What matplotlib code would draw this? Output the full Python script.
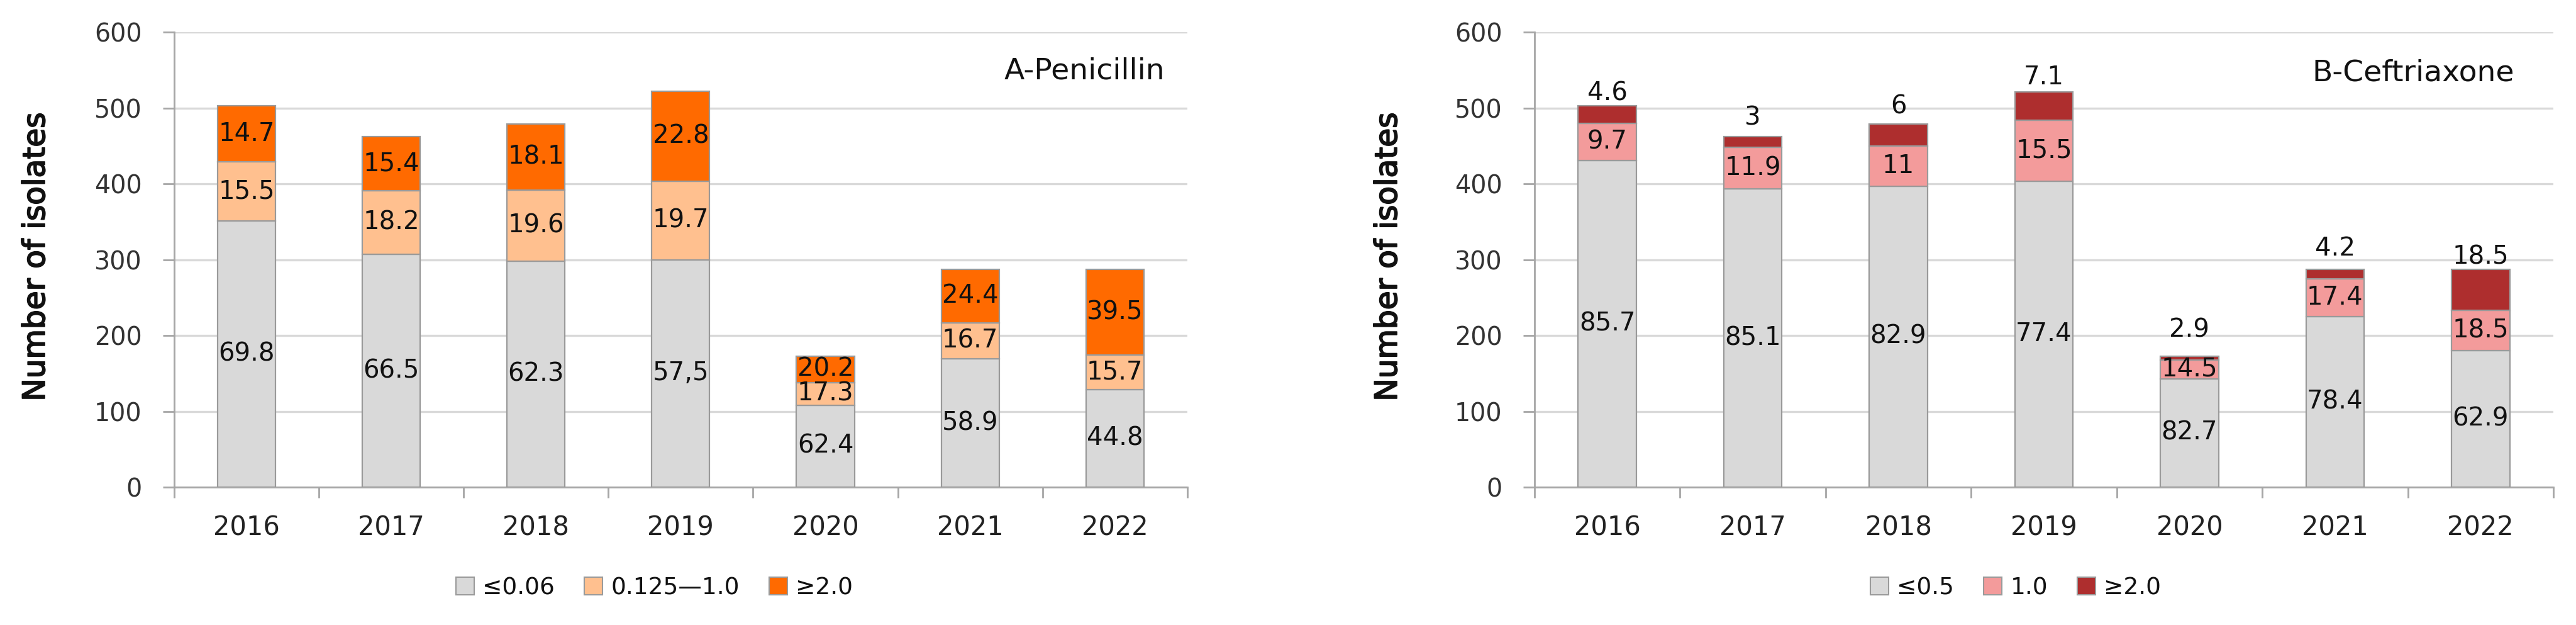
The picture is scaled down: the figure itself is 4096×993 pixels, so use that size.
import matplotlib
matplotlib.use("Agg")
import matplotlib.pyplot as plt
import matplotlib.patheffects as pe
from matplotlib.patches import Patch
import numpy as np

plt.rcParams['font.family'] = ['DejaVu Sans']

# ---------------- data ----------------
years = ["2016", "2017", "2018", "2019", "2020", "2021", "2022"]

# Penicillin (counts of isolates per MIC class)
pen_low = [351, 307, 298, 300, 108, 169, 129]     # <=0.06
pen_mid = [78, 84, 94, 103, 30, 48, 45]           # 0.125-1.0
pen_high = [74, 71, 87, 119, 35, 70, 113]         # >=2.0
pen_low_lbl = ["69.8", "66.5", "62.3", "57,5", "62.4", "58.9", "44.8"]
pen_mid_lbl = ["15.5", "18.2", "19.6", "19.7", "17.3", "16.7", "15.7"]
pen_high_lbl = ["14.7", "15.4", "18.1", "22.8", "20.2", "24.4", "39.5"]
pen_legend = ["\u22640.06", "0.125\u20141.0", "\u22652.0"]

# Ceftriaxone
cef_low = [431, 393, 397, 403, 143, 225, 180]     # <=0.5
cef_mid = [49, 55, 53, 81, 25, 50, 53]            # 1.0
cef_high = [23, 14, 29, 37, 5, 12, 54]            # >=2.0
cef_low_lbl = ["85.7", "85.1", "82.9", "77.4", "82.7", "78.4", "62.9"]
cef_mid_lbl = ["9.7", "11.9", "11", "15.5", "14.5", "17.4", "18.5"]
cef_high_lbl = ["4.6", "3", "6", "7.1", "2.9", "4.2", "18.5"]
cef_legend = ["\u22640.5", "1.0", "\u22652.0"]

yticks = [0, 100, 200, 300, 400, 500, 600]

# ---------------- style ----------------
C_GRAY = "#D9D9D9"
C_PEACH = "#FFC08F"
C_ORANGE = "#FF6A00"
C_PINK = "#F39B9B"
C_RED = "#AE2E2E"
EDGE = "#9A9A9A"
AXC = "#A6A6A6"
GRIDC = "#D9D9D9"
TXT = "#111111"

# offsets (points) of the >=2.0 labels above the Ceftriaxone bars
top_offsets = [14, 21.5, 19.5, 16.5, 29.5, 24, 14]

fig = plt.figure(figsize=(40.96, 9.93), dpi=100)
ax1 = fig.add_axes([0.0676, 0.2205, 0.3933, 0.7281])
ax2 = fig.add_axes([0.5957, 0.2205, 0.3955, 0.7281])

x = np.arange(len(years))
W = 0.40


def style_axes(ax):
    ax.set_xlim(-0.5, len(years) - 0.5)
    ax.set_ylim(0, 600)
    ax.set_yticks(yticks)
    ax.set_xticks(x)
    ax.set_xticklabels(years)
    ax.set_xticks(np.arange(-0.5, len(years)), minor=True)
    for s in ["top", "right"]:
        ax.spines[s].set_visible(False)
    for s in ["left", "bottom"]:
        ax.spines[s].set_color(AXC)
        ax.spines[s].set_linewidth(2.0)
    ax.yaxis.grid(True, color=GRIDC, linewidth=2.4)
    ax.set_axisbelow(True)
    ax.tick_params(axis="y", which="major", length=13, width=2.0, color=AXC,
                   pad=24, labelsize=28.5, labelcolor="#333333")
    ax.tick_params(axis="x", which="major", length=0, pad=31,
                   labelsize=30, labelcolor="#222222")
    ax.tick_params(axis="x", which="minor", length=12, width=2.0,
                   color=AXC, direction="out")


def draw_panel(ax, low, mid, high, lo_l, mi_l, hi_l, colors, high_outside):
    low = np.array(low)
    mid = np.array(mid)
    high = np.array(high)
    ax.bar(x, low, W, color=colors[0], edgecolor=EDGE, linewidth=1.6, zorder=3)
    ax.bar(x, mid, W, bottom=low, color=colors[1], edgecolor=EDGE,
           linewidth=1.6, zorder=3)
    ax.bar(x, high, W, bottom=low + mid, color=colors[2], edgecolor=EDGE,
           linewidth=1.6, zorder=3)
    fs = 29
    for i in range(len(x)):
        ax.text(x[i], low[i] / 2, lo_l[i], ha="center", va="center",
                fontsize=fs, color=TXT, zorder=5)
        ax.text(x[i], low[i] + mid[i] / 2, mi_l[i], ha="center", va="center",
                fontsize=fs, color=TXT, zorder=5)
        top = low[i] + mid[i] + high[i]
        if high_outside:
            ax.annotate(hi_l[i], xy=(x[i], top), xytext=(0, top_offsets[i]),
                        textcoords="offset points", ha="center", va="center",
                        fontsize=fs, color=TXT, zorder=5)
        else:
            ax.text(x[i], low[i] + mid[i] + high[i] / 2, hi_l[i], ha="center",
                    va="center", fontsize=fs, color=TXT, zorder=5)


style_axes(ax1)
style_axes(ax2)

draw_panel(ax1, pen_low, pen_mid, pen_high, pen_low_lbl, pen_mid_lbl,
           pen_high_lbl, [C_GRAY, C_PEACH, C_ORANGE], False)
draw_panel(ax2, cef_low, cef_mid, cef_high, cef_low_lbl, cef_mid_lbl,
           cef_high_lbl, [C_GRAY, C_PINK, C_RED], True)

# panel titles
fig.text(0.4521, 0.886, "A-Penicillin", ha="right", va="center", fontsize=34,
         color=TXT)
fig.text(0.9760, 0.883, "B-Ceftriaxone", ha="right", va="center", fontsize=34,
         color=TXT)

# y labels
for xl in (0.0139, 0.5388):
    fig.text(xl, 0.589, "Number of isolates", rotation=90, ha="center",
             va="center", fontsize=35, color="#111111",
             path_effects=[pe.withStroke(linewidth=1.4, foreground="#111111")])

# legends
def add_legend(labels, colors, xc):
    handles = [Patch(facecolor=c, edgecolor=EDGE, linewidth=1.5) for c in colors]
    fig.legend(handles, labels, loc="center", bbox_to_anchor=(xc, 0.0594),
               ncol=3, frameon=False, fontsize=27, handlelength=0.78,
               handleheight=0.78, handletextpad=0.35, columnspacing=1.25,
               labelcolor=TXT)


add_legend(pen_legend, [C_GRAY, C_PEACH, C_ORANGE], 0.254)
add_legend(cef_legend, [C_GRAY, C_PINK, C_RED], 0.7825)

fig.savefig("out.png", dpi=100, facecolor="white")
